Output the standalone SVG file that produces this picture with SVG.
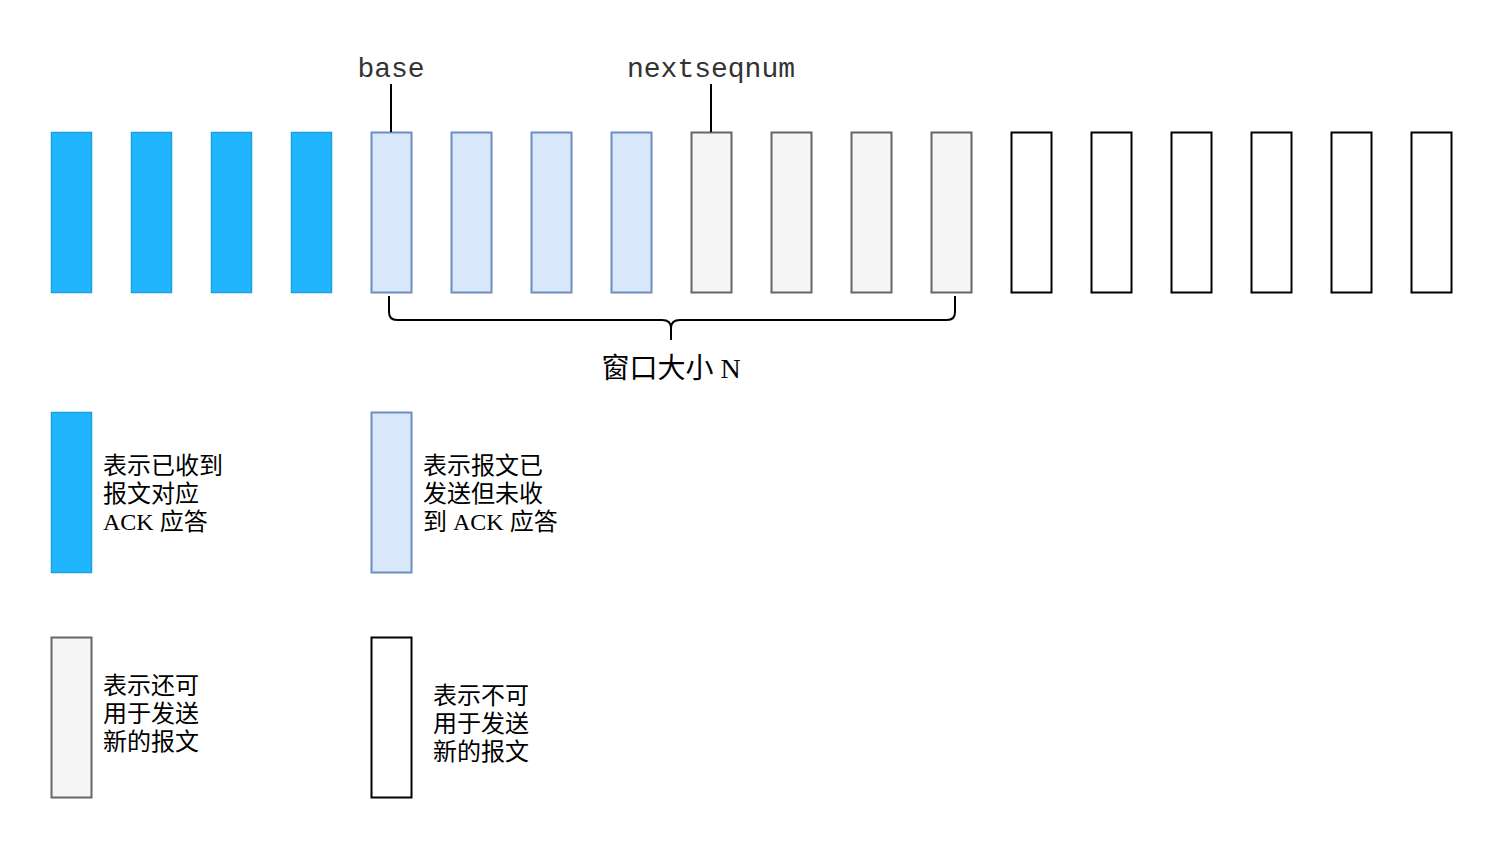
<svg xmlns="http://www.w3.org/2000/svg" width="1502" height="849" viewBox="0 0 1502 849">
<style>
.acked{fill:#1FB5FF;stroke:#1BA1E2;stroke-width:1.5}
.sent{fill:#DAE8FC;stroke:#6C8EBF;stroke-width:2}
.avail{fill:#F5F5F5;stroke:#666666;stroke-width:2}
.unusable{fill:#FFFFFF;stroke:#000000;stroke-width:2}
.mono{font-family:"Liberation Mono","DejaVu Sans Mono",monospace;font-size:28px;fill:#333333;text-anchor:middle;font-weight:300}
.txt{font-family:"Liberation Serif","Noto Sans CJK SC",serif;font-size:24px;fill:#000000}
.big{font-size:28px;text-anchor:middle}
.conn{fill:none;stroke:#000000;stroke-width:2}
</style>
<rect width="1502" height="849" fill="#FFFFFF"/>
<g id="seq">
<g id="n0"><rect class="acked" x="51.5" y="132.5" width="40" height="160"/></g>
<g id="n1"><rect class="acked" x="131.5" y="132.5" width="40" height="160"/></g>
<g id="n2"><rect class="acked" x="211.5" y="132.5" width="40" height="160"/></g>
<g id="n3"><rect class="acked" x="291.5" y="132.5" width="40" height="160"/></g>
<g id="n4"><rect class="sent" x="371.5" y="132.5" width="40" height="160"/></g>
<g id="n5"><rect class="sent" x="451.5" y="132.5" width="40" height="160"/></g>
<g id="n6"><rect class="sent" x="531.5" y="132.5" width="40" height="160"/></g>
<g id="n7"><rect class="sent" x="611.5" y="132.5" width="40" height="160"/></g>
<g id="n8"><rect class="avail" x="691.5" y="132.5" width="40" height="160"/></g>
<g id="n9"><rect class="avail" x="771.5" y="132.5" width="40" height="160"/></g>
<g id="n10"><rect class="avail" x="851.5" y="132.5" width="40" height="160"/></g>
<g id="n11"><rect class="avail" x="931.5" y="132.5" width="40" height="160"/></g>
<g id="n12"><rect class="unusable" x="1011.5" y="132.5" width="40" height="160"/></g>
<g id="n13"><rect class="unusable" x="1091.5" y="132.5" width="40" height="160"/></g>
<g id="n14"><rect class="unusable" x="1171.5" y="132.5" width="40" height="160"/></g>
<g id="n15"><rect class="unusable" x="1251.5" y="132.5" width="40" height="160"/></g>
<g id="n16"><rect class="unusable" x="1331.5" y="132.5" width="40" height="160"/></g>
<g id="n17"><rect class="unusable" x="1411.5" y="132.5" width="40" height="160"/></g>
</g>
<g id="base-label"><text class="mono" x="391" y="77">base</text></g>
<g id="nextseqnum-label"><text class="mono" x="711" y="77">nextseqnum</text></g>
<g id="window-label"><text class="txt big" x="671" y="378">窗口大小 N</text></g>
<g id="connectors">
<line class="conn" x1="391" y1="84" x2="391" y2="132"/>
<line class="conn" x1="711" y1="84" x2="711" y2="132"/>
<path class="conn" d="M389 296 V312 Q389 320 397 320 H662 Q671 320 671 328 V340 M671 328 Q671 320 680 320 H947 Q955 320 955 312 V296"/>
</g>
<g id="legend-acked">
<rect class="acked" x="51.5" y="412.5" width="40" height="160"/>
<text class="txt" x="103"><tspan x="103" y="474">表示已收到</tspan><tspan x="103" y="502">报文对应</tspan><tspan x="103" y="530">ACK 应答</tspan></text>
</g>
<g id="legend-sent">
<rect class="sent" x="371.5" y="412.5" width="40" height="160"/>
<text class="txt" x="423"><tspan x="423" y="474">表示报文已</tspan><tspan x="423" y="502">发送但未收</tspan><tspan x="423" y="530">到 ACK 应答</tspan></text>
</g>
<g id="legend-avail">
<rect class="avail" x="51.5" y="637.5" width="40" height="160"/>
<text class="txt" x="103"><tspan x="103" y="694">表示还可</tspan><tspan x="103" y="722">用于发送</tspan><tspan x="103" y="750">新的报文</tspan></text>
</g>
<g id="legend-unusable">
<rect class="unusable" x="371.5" y="637.5" width="40" height="160"/>
<text class="txt" x="433"><tspan x="433" y="704">表示不可</tspan><tspan x="433" y="732">用于发送</tspan><tspan x="433" y="760">新的报文</tspan></text>
</g>
</svg>
